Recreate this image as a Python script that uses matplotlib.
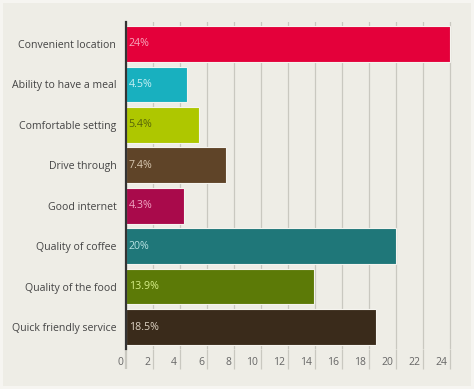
import matplotlib
matplotlib.use("Agg")
import matplotlib.pyplot as plt
import matplotlib.transforms as mtransforms

categories = ["Convenient location", "Ability to have a meal", "Comfortable setting",
              "Drive through", "Good internet", "Quality of coffee",
              "Quality of the food", "Quick friendly service"]
values = [24, 4.5, 5.4, 7.4, 4.3, 20, 13.9, 18.5]
bar_colors = ["#E4003A", "#18B0BF", "#AEC700", "#5F4428", "#A90A4B",
              "#1F7779", "#5C7A07", "#3A2B1B"]
label_colors = ["#F7A8BC", "#C8F0F4", "#56640A", "#D9C9B2", "#F2A6C4",
                "#B8E2E2", "#D6EE88", "#DDD3C4"]
xticks = list(range(0, 25, 2))

bg = "#EEEDE6"
plt.rcParams["font.family"] = ["Open Sans", "DejaVu Sans"]

fig = plt.figure(figsize=(4.74, 3.89), dpi=100, facecolor=bg)
ax = fig.add_axes([126 / 474, 1 - 349 / 389, (470 - 126) / 474, (349 - 22) / 389])
ax.set_facecolor(bg)

ypos = list(range(len(categories)))
ax.barh(ypos, values, height=0.88, color=bar_colors, edgecolor="#F5F4EF",
        linewidth=0.8, zorder=3)
for y, v, c in zip(ypos, values, label_colors):
    ax.text(0.2, y, f"{v:g}%", color=c, fontsize=7.7, va="center", ha="left", zorder=4)

ax.set_xlim(0, 344 / 13.5)
ax.set_ylim(7.54, -0.54)
ax.set_yticks(ypos)
ax.set_yticklabels(categories, fontsize=7.6, color="#444444")
ax.tick_params(axis="y", length=0, pad=7)

ax.set_xticks(xticks)
ax.set_xticklabels([str(t) for t in xticks], fontsize=7.5, color="#666666", ha="right")
ax.tick_params(axis="x", direction="out", length=14.5, width=0.9, color="#C9C8C0", pad=0)
offset = mtransforms.ScaledTranslation(-3 / 100, 12 / 100, fig.dpi_scale_trans)
for lab in ax.get_xticklabels():
    lab.set_transform(lab.get_transform() + offset)
t0 = ax.xaxis.get_major_ticks()[0]
t0.tick1line.set_color("#333333")
t0.tick1line.set_markeredgewidth(1.6)

ax.grid(axis="x", color="#C9C8C0", linewidth=0.9, zorder=0)
for s in ["top", "right", "bottom"]:
    ax.spines[s].set_visible(False)
ax.spines["left"].set_color("#333333")
ax.spines["left"].set_linewidth(1.6)
ax.spines["left"].set_zorder(5)

fig.patch.set_edgecolor("#F6F5F1")
fig.patch.set_linewidth(3)
fig.savefig("out.png", dpi=100, facecolor=bg, edgecolor="#F6F5F1")
